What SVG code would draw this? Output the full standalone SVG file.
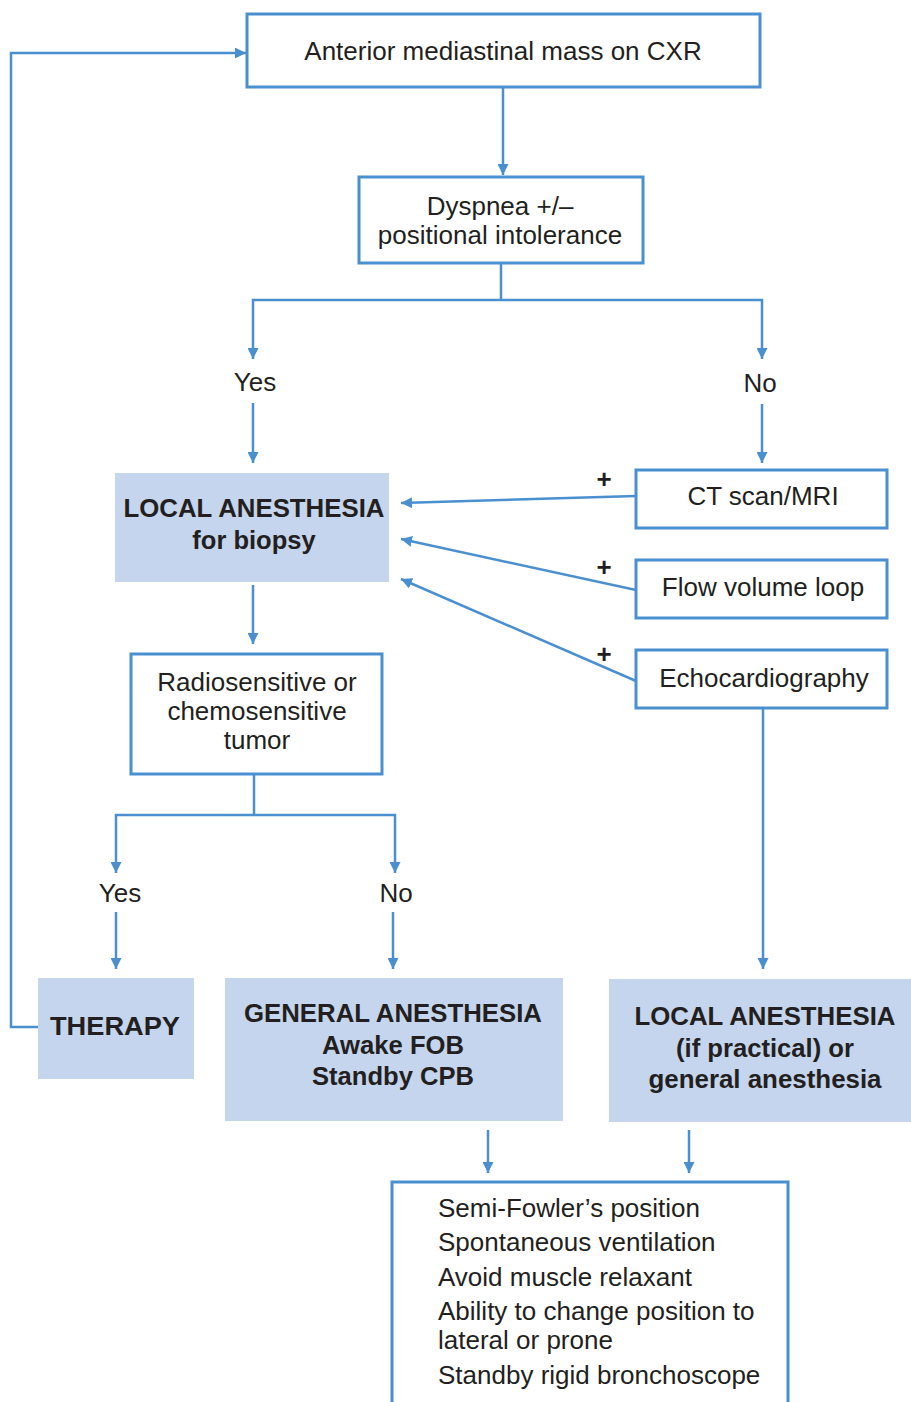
<svg xmlns="http://www.w3.org/2000/svg" width="911" height="1402" viewBox="0 0 911 1402">
<defs>
<marker id="ah" viewBox="0 0 10 10" refX="10" refY="5" markerWidth="11" markerHeight="11" markerUnits="userSpaceOnUse" orient="auto">
<path d="M0,0 L10,5 L0,10 z" fill="#4a8fd0"/>
</marker>
<style>
.box{fill:#fff;stroke:#4a8fd0;stroke-width:3}
.fbox{fill:#c5d5ed;stroke:none}
.ln{fill:none;stroke:#4a8fd0;stroke-width:2.5}
.ar{fill:none;stroke:#4a8fd0;stroke-width:2.5;marker-end:url(#ah)}
.t{font-family:"Liberation Sans",Arial,sans-serif;font-size:26px;fill:#231f20;text-anchor:middle}
.b{font-family:"Liberation Sans",Arial,sans-serif;font-size:25.5px;font-weight:bold;fill:#231f20;text-anchor:middle}
.l{font-family:"Liberation Sans",Arial,sans-serif;font-size:26px;fill:#231f20}
.p{font-family:"Liberation Sans",Arial,sans-serif;font-size:26px;font-weight:bold;fill:#231f20;text-anchor:middle}
</style>
</defs>
<rect width="911" height="1402" fill="#fff"/>
<g id="connectors">
<polyline class="ar" points="38,1027 11,1027 11,53 246,53"/>
<line class="ar" x1="503" y1="88" x2="503" y2="175"/>
<polyline class="ln" points="501,263 501,300"/>
<polyline class="ar" points="501,300 253,300 253,359"/>
<polyline class="ar" points="501,300 762,300 762,359"/>
<line class="ar" x1="253" y1="403" x2="253" y2="463"/>
<line class="ar" x1="762" y1="404" x2="762" y2="463"/>
<line class="ar" x1="636" y1="496" x2="401" y2="503"/>
<line class="ar" x1="636" y1="590" x2="401" y2="539"/>
<line class="ar" x1="636" y1="681" x2="401" y2="579"/>
<line class="ar" x1="253" y1="585" x2="253" y2="644"/>
<line class="ln" x1="254" y1="774" x2="254" y2="815"/>
<polyline class="ar" points="254,815 116,815 116,873"/>
<polyline class="ar" points="254,815 395,815 395,873"/>
<line class="ar" x1="116" y1="912" x2="116" y2="969"/>
<line class="ar" x1="393" y1="912" x2="393" y2="969"/>
<line class="ar" x1="763" y1="708" x2="763" y2="969"/>
<line class="ar" x1="488" y1="1130" x2="488" y2="1173"/>
<line class="ar" x1="689" y1="1130" x2="689" y2="1173"/>
<text class="p" x="604" y="488">+</text>
<text class="p" x="604" y="576">+</text>
<text class="p" x="604" y="663">+</text>
</g>
<g id="n-cxr">
<rect class="box" x="247" y="14" width="513" height="73"/>
<text class="t" x="503" y="60">Anterior mediastinal mass on CXR</text>
</g>
<g id="n-dyspnea">
<rect class="box" x="359" y="177" width="284" height="86"/>
<text class="t" x="500" y="215">Dyspnea +/–</text>
<text class="t" x="500" y="244">positional intolerance</text>
</g>
<g id="n-yes1"><text class="t" x="255" y="391">Yes</text></g>
<g id="n-no1"><text class="t" x="760" y="392">No</text></g>
<g id="n-local">
<rect class="fbox" x="115" y="473" width="274" height="109"/>
<text class="b" x="254" y="517" textLength="261" lengthAdjust="spacingAndGlyphs">LOCAL ANESTHESIA</text>
<text class="b" x="254" y="549">for biopsy</text>
</g>
<g id="n-ct">
<rect class="box" x="636" y="470" width="251" height="58"/>
<text class="t" x="763" y="505">CT scan/MRI</text>
</g>
<g id="n-flow">
<rect class="box" x="636" y="560" width="251" height="58"/>
<text class="t" x="763" y="596">Flow volume loop</text>
</g>
<g id="n-echo">
<rect class="box" x="636" y="650" width="251" height="58"/>
<text class="t" x="764" y="687">Echocardiography</text>
</g>
<g id="n-radio">
<rect class="box" x="131" y="654" width="251" height="120"/>
<text class="t" x="257" y="691">Radiosensitive or</text>
<text class="t" x="257" y="720">chemosensitive</text>
<text class="t" x="257" y="749">tumor</text>
</g>
<g id="n-yes2"><text class="t" x="120" y="902">Yes</text></g>
<g id="n-no2"><text class="t" x="396" y="902">No</text></g>
<g id="n-therapy">
<rect class="fbox" x="38" y="978" width="156" height="101"/>
<text class="b" x="115" y="1035" textLength="130" lengthAdjust="spacingAndGlyphs">THERAPY</text>
</g>
<g id="n-general">
<rect class="fbox" x="225" y="978" width="338" height="143"/>
<text class="b" x="393" y="1022" textLength="298" lengthAdjust="spacingAndGlyphs">GENERAL ANESTHESIA</text>
<text class="b" x="393" y="1054" textLength="142" lengthAdjust="spacingAndGlyphs">Awake FOB</text>
<text class="b" x="393" y="1085" textLength="162" lengthAdjust="spacingAndGlyphs">Standby CPB</text>
</g>
<g id="n-local2">
<rect class="fbox" x="609" y="979" width="302" height="143"/>
<text class="b" x="765" y="1025" textLength="261" lengthAdjust="spacingAndGlyphs">LOCAL ANESTHESIA</text>
<text class="b" x="765" y="1057" textLength="178" lengthAdjust="spacingAndGlyphs">(if practical) or</text>
<text class="b" x="765" y="1088" textLength="233" lengthAdjust="spacingAndGlyphs">general anesthesia</text>
</g>
<g id="n-list">
<polyline class="box" points="392,1402 392,1182 788,1182 788,1402" style="fill:none"/>
<text class="l" x="438" y="1217">Semi-Fowler’s position</text>
<text class="l" x="438" y="1251">Spontaneous ventilation</text>
<text class="l" x="438" y="1286">Avoid muscle relaxant</text>
<text class="l" x="438" y="1320">Ability to change position to</text>
<text class="l" x="438" y="1349">lateral or prone</text>
<text class="l" x="438" y="1384">Standby rigid bronchoscope</text>
</g>
</svg>
